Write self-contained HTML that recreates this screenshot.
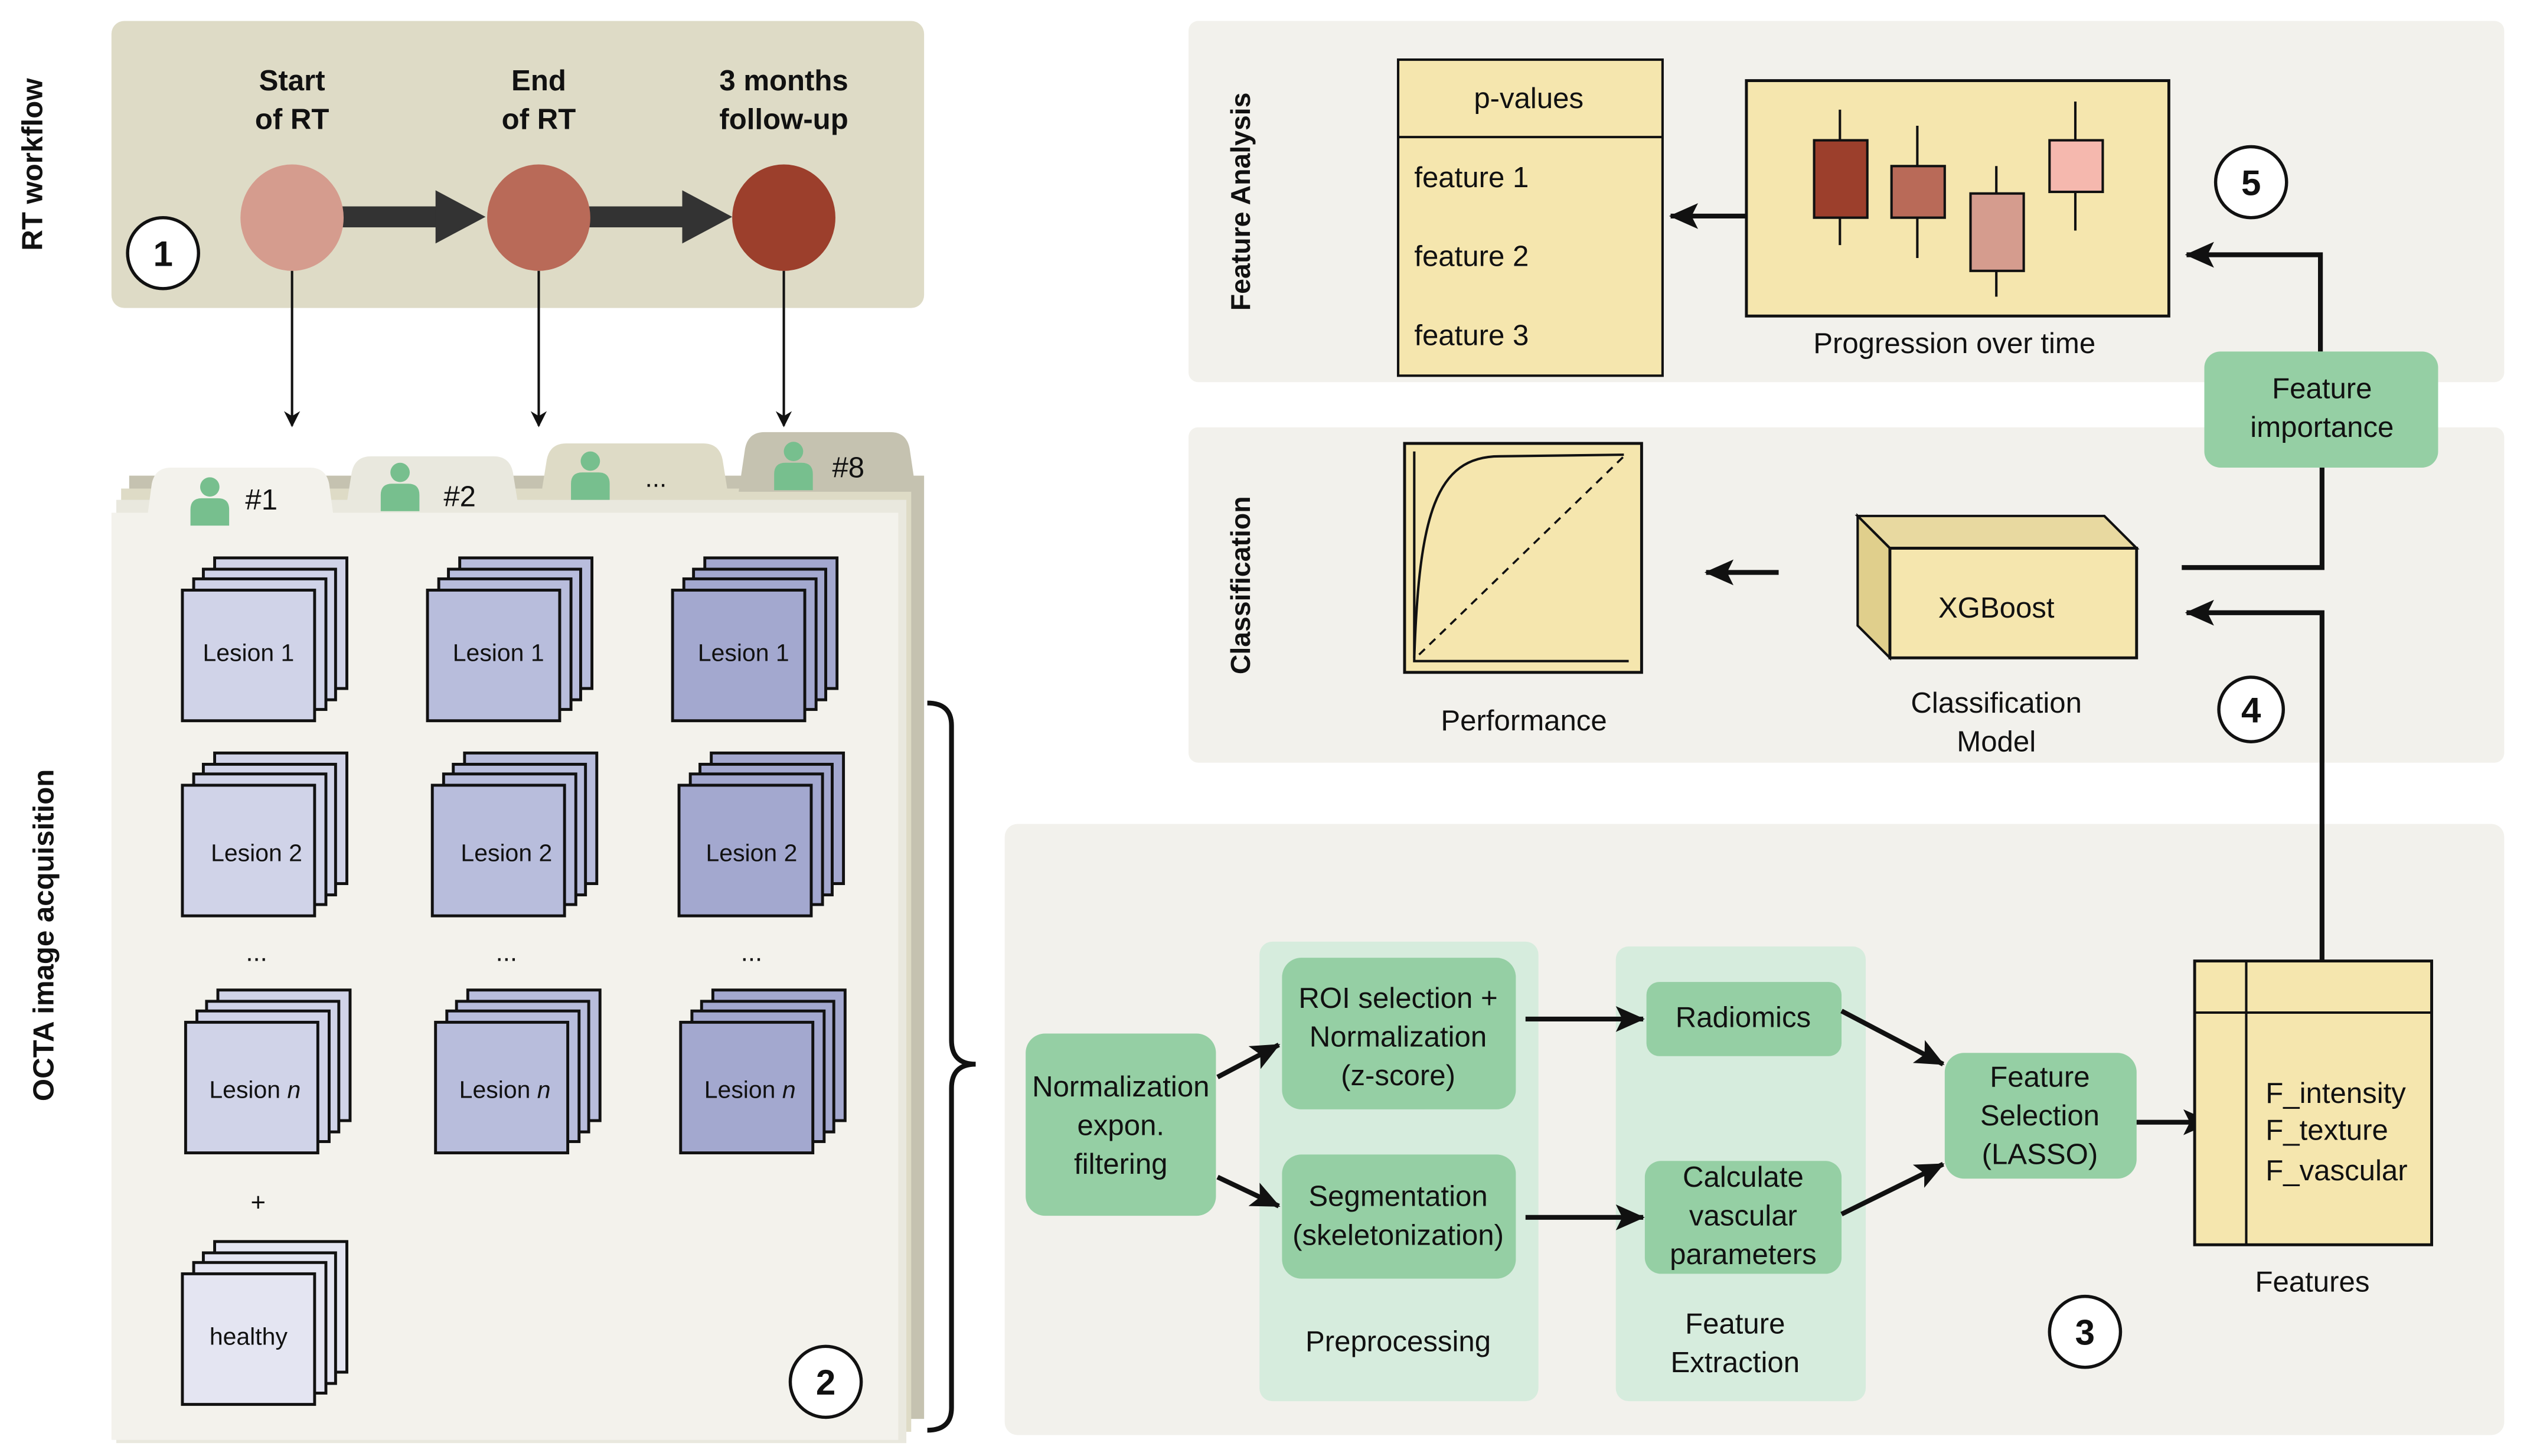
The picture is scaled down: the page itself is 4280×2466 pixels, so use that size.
<!DOCTYPE html>
<html><head><meta charset="utf-8"><style>
html,body{margin:0;padding:0;background:#fff;}
svg{display:block;}
text{font-family:"Liberation Sans",Arial,sans-serif;fill:#111;}
</style></head><body>
<svg width="4280" height="2466" viewBox="0 0 1567 903" xmlns="http://www.w3.org/2000/svg">
<defs>
<marker id="ah" markerWidth="10" markerHeight="10" refX="9" refY="5" orient="auto" markerUnits="userSpaceOnUse"><path d="M0,0 L10,5 L0,10 L3,5 z" fill="#111"/></marker>
<marker id="ahb" markerWidth="18" markerHeight="16" refX="17" refY="8" orient="auto" markerUnits="userSpaceOnUse"><path d="M0,0 L18,8 L0,16 L4,8 z" fill="#111"/></marker>
<g id="person"><circle cx="0" cy="-12" r="6" fill="#77bf8e"/><path d="M-12,12 L-12,2 Q-12,-5 -5,-5 L5,-5 Q12,-5 12,2 L12,12 z" fill="#77bf8e"/></g>
</defs>

<rect x="69" y="13" width="504" height="178" rx="8" fill="#dedbc6"/>
<text transform="translate(26,102) rotate(-90)" text-anchor="middle" font-size="18" font-weight="bold">RT workflow</text>
<g font-size="18" font-weight="bold" text-anchor="middle">
<text x="181" y="56">Start</text><text x="181" y="80">of RT</text>
<text x="334" y="56">End</text><text x="334" y="80">of RT</text>
<text x="486" y="56">3 months</text><text x="486" y="80">follow-up</text>
</g>
<rect x="212" y="128" width="60" height="13" fill="#333"/><path d="M270,118 L301,134.5 L270,151 z" fill="#333"/>
<rect x="365" y="128" width="60" height="13" fill="#333"/><path d="M423,118 L454,134.5 L423,151 z" fill="#333"/>
<ellipse cx="181" cy="135" rx="32" ry="33" fill="#d59c8e"/>
<ellipse cx="334" cy="135" rx="32" ry="33" fill="#b96a58"/>
<ellipse cx="486" cy="135" rx="32" ry="33" fill="#9c3f2c"/>
<circle cx="101" cy="157" r="22" fill="#fff" stroke="#111" stroke-width="2"/>
<text x="101" y="165" font-size="22" font-weight="bold" text-anchor="middle">1</text>
<g stroke="#111" stroke-width="1.5" fill="none">
<line x1="181" y1="168" x2="181" y2="264" marker-end="url(#ah)"/>
<line x1="334" y1="168" x2="334" y2="264" marker-end="url(#ah)"/>
<line x1="486" y1="168" x2="486" y2="264" marker-end="url(#ah)"/>
</g>

<rect x="80" y="295" width="493" height="585" fill="#c5c2b0"/>
<rect x="75" y="303" width="490" height="585" fill="#dedbc6"/>
<rect x="72" y="310" width="490" height="585" fill="#e9e8de"/>
<path d="M458,305 L462,278 Q464,268 474,268 L552,268 Q562,268 564,278 L568,305 z" fill="#c5c2b0"/>
<path d="M335,310 L339,285 Q341,275 351,275 L436,275 Q446,275 448,285 L452,310 z" fill="#dedbc6"/>
<path d="M214,318 L218,293 Q220,283 230,283 L306,283 Q316,283 318,293 L322,318 z" fill="#e9e8de"/>
<rect x="69" y="318" width="488" height="575" fill="#f3f2ec"/>
<path d="M90,330 L94,300 Q96,290 106,290 L192,290 Q202,290 204,300 L208,330 z" fill="#f3f2ec"/>
<use href="#person" x="130" y="314"/><text x="152" y="316" font-size="18" fill="#555">#1</text>
<use href="#person" x="248" y="305"/><text x="275" y="314" font-size="18" fill="#555">#2</text>
<use href="#person" x="366" y="298"/><text x="400" y="302" font-size="16" fill="#555">...</text>
<use href="#person" x="492" y="292"/><text x="516" y="296" font-size="18" fill="#555">#8</text>

<g stroke="#111" stroke-width="1.8" font-size="15" text-anchor="middle">
<g fill="#d0d3e8">
<rect x="133" y="346" width="82" height="81"/><rect x="126" y="353" width="82" height="81"/><rect x="120" y="359" width="82" height="81"/><rect x="113" y="366" width="82" height="81"/>
<rect x="133" y="467" width="82" height="81"/><rect x="126" y="474" width="82" height="81"/><rect x="120" y="480" width="82" height="81"/><rect x="113" y="487" width="82" height="81"/>
<rect x="135" y="614" width="82" height="81"/><rect x="128" y="621" width="82" height="81"/><rect x="122" y="627" width="82" height="81"/><rect x="115" y="634" width="82" height="81"/>
</g>
<g fill="#e4e5f2">
<rect x="133" y="770" width="82" height="81"/><rect x="126" y="777" width="82" height="81"/><rect x="120" y="783" width="82" height="81"/><rect x="113" y="790" width="82" height="81"/>
</g>
<g fill="#b8bddc">
<rect x="285" y="346" width="82" height="81"/><rect x="278" y="353" width="82" height="81"/><rect x="272" y="359" width="82" height="81"/><rect x="265" y="366" width="82" height="81"/>
<rect x="288" y="467" width="82" height="81"/><rect x="281" y="474" width="82" height="81"/><rect x="275" y="480" width="82" height="81"/><rect x="268" y="487" width="82" height="81"/>
<rect x="290" y="614" width="82" height="81"/><rect x="283" y="621" width="82" height="81"/><rect x="277" y="627" width="82" height="81"/><rect x="270" y="634" width="82" height="81"/>
</g>
<g fill="#a3a8cf">
<rect x="437" y="346" width="82" height="81"/><rect x="430" y="353" width="82" height="81"/><rect x="424" y="359" width="82" height="81"/><rect x="417" y="366" width="82" height="81"/>
<rect x="441" y="467" width="82" height="81"/><rect x="434" y="474" width="82" height="81"/><rect x="428" y="480" width="82" height="81"/><rect x="421" y="487" width="82" height="81"/>
<rect x="442" y="614" width="82" height="81"/><rect x="435" y="621" width="82" height="81"/><rect x="429" y="627" width="82" height="81"/><rect x="422" y="634" width="82" height="81"/>
</g>
</g>
<g font-size="15" text-anchor="middle">
<text x="154" y="410">Lesion 1</text><text x="309" y="410">Lesion 1</text><text x="461" y="410">Lesion 1</text>
<text x="159" y="534">Lesion 2</text><text x="314" y="534">Lesion 2</text><text x="466" y="534">Lesion 2</text>
<text x="158" y="681">Lesion <tspan font-style="italic">n</tspan></text><text x="313" y="681">Lesion <tspan font-style="italic">n</tspan></text><text x="465" y="681">Lesion <tspan font-style="italic">n</tspan></text>
<text x="154" y="834">healthy</text>
<text x="159" y="596" font-size="16">...</text><text x="314" y="596" font-size="16">...</text><text x="466" y="596" font-size="16">...</text>
<text x="160" y="751" font-size="16">+</text>
</g>
<text transform="translate(33,580) rotate(-90)" text-anchor="middle" font-size="18" font-weight="bold">OCTA image acquisition</text>
<circle cx="512" cy="857" r="22" fill="#fff" stroke="#111" stroke-width="2"/>
<text x="512" y="865" font-size="22" font-weight="bold" text-anchor="middle">2</text>
<path d="M575,436 Q590,436 590,450 L590,645 Q590,660 605,660 Q590,660 590,675 L590,873 Q590,887 575,887" fill="none" stroke="#111" stroke-width="3"/>

<rect x="737" y="13" width="816" height="224" rx="6" fill="#f2f1ec"/>
<rect x="737" y="265" width="816" height="208" rx="6" fill="#f2f1ec"/>
<rect x="623" y="511" width="930" height="379" rx="8" fill="#f2f1ec"/>
<text transform="translate(775,125) rotate(-90)" text-anchor="middle" font-size="17" font-weight="bold">Feature Analysis</text>
<text transform="translate(775,363) rotate(-90)" text-anchor="middle" font-size="17" font-weight="bold">Classification</text>

<rect x="867" y="37" width="164" height="196" fill="#f5e6ae" stroke="#111" stroke-width="1.5"/>
<line x1="867" y1="85" x2="1031" y2="85" stroke="#111" stroke-width="1.5"/>
<g font-size="18"><text x="948" y="67" text-anchor="middle">p-values</text>
<text x="877" y="116">feature 1</text><text x="877" y="165">feature 2</text><text x="877" y="214">feature 3</text></g>
<line x1="1083" y1="134" x2="1036" y2="134" stroke="#111" stroke-width="3" marker-end="url(#ahb)"/>
<rect x="1083" y="50" width="262" height="146" fill="#f5e6ae" stroke="#111" stroke-width="1.8"/>
<g stroke="#111" stroke-width="1.5">
<line x1="1141" y1="68" x2="1141" y2="152"/><rect x="1125" y="87" width="33" height="48" fill="#9c3f2c"/>
<line x1="1189" y1="78" x2="1189" y2="160"/><rect x="1173" y="103" width="33" height="32" fill="#b96a58"/>
<line x1="1238" y1="103" x2="1238" y2="184"/><rect x="1222" y="120" width="33" height="48" fill="#d59c8e"/>
<line x1="1287" y1="63" x2="1287" y2="143"/><rect x="1271" y="87" width="33" height="32" fill="#f5b8ae"/>
</g>
<text x="1212" y="219" font-size="18" text-anchor="middle">Progression over time</text>
<circle cx="1396" cy="113" r="22" fill="#fff" stroke="#111" stroke-width="2"/>
<text x="1396" y="121" font-size="22" font-weight="bold" text-anchor="middle">5</text>

<polyline points="1439,218 1439,158 1356,158" fill="none" stroke="#111" stroke-width="3" marker-end="url(#ahb)"/>
<polyline points="1440,290 1440,352 1353,352" fill="none" stroke="#111" stroke-width="3"/>
<rect x="1367" y="218" width="145" height="72" rx="10" fill="#95cfa4"/>
<text x="1440" y="247" font-size="18" text-anchor="middle">Feature</text>
<text x="1440" y="271" font-size="18" text-anchor="middle">importance</text>

<rect x="871" y="275" width="147" height="142" fill="#f5e6ae" stroke="#111" stroke-width="1.8"/>
<polyline points="877,280 877,410 1010,410" fill="none" stroke="#111" stroke-width="1.5"/>
<path d="M877,408 C880,320 890,283 930,283 L1007,282" fill="none" stroke="#111" stroke-width="1.5"/>
<line x1="880" y1="406" x2="1007" y2="283" stroke="#111" stroke-width="1.3" stroke-dasharray="5,4"/>
<text x="945" y="453" font-size="18" text-anchor="middle">Performance</text>
<line x1="1103" y1="355" x2="1058" y2="355" stroke="#111" stroke-width="3" marker-end="url(#ahb)"/>

<path d="M1152,320 L1305,320 L1325,340 L1172,340 z" fill="#e8d9a0" stroke="#111" stroke-width="1.5"/>
<path d="M1152,320 L1172,340 L1172,408 L1152,388 z" fill="#e0cf8c" stroke="#111" stroke-width="1.5"/>
<rect x="1172" y="340" width="153" height="68" fill="#f5e6ae" stroke="#111" stroke-width="1.8"/>
<text x="1238" y="383" font-size="18" text-anchor="middle">XGBoost</text>
<text x="1238" y="442" font-size="18" text-anchor="middle">Classification</text>
<text x="1238" y="466" font-size="18" text-anchor="middle">Model</text>
<circle cx="1396" cy="440" r="20" fill="#fff" stroke="#111" stroke-width="2"/>
<text x="1396" y="448" font-size="22" font-weight="bold" text-anchor="middle">4</text>
<polyline points="1440,596 1440,380 1356,380" fill="none" stroke="#111" stroke-width="3" marker-end="url(#ahb)"/>

<rect x="781" y="584" width="173" height="285" rx="8" fill="#d6ecdd"/>
<rect x="1002" y="587" width="155" height="282" rx="8" fill="#d6ecdd"/>
<g fill="#95cfa4">
<rect x="636" y="641" width="118" height="113" rx="12"/>
<rect x="795" y="594" width="145" height="94" rx="12"/>
<rect x="795" y="716" width="145" height="77" rx="12"/>
<rect x="1021" y="609" width="121" height="46" rx="8"/>
<rect x="1020" y="720" width="122" height="70" rx="10"/>
<rect x="1206" y="653" width="119" height="78" rx="12"/>
</g>
<g font-size="18" text-anchor="middle">
<text x="695" y="680">Normalization</text><text x="695" y="704">expon.</text><text x="695" y="728">filtering</text>
<text x="867" y="625">ROI selection +</text><text x="867" y="649">Normalization</text><text x="867" y="673">(z-score)</text>
<text x="867" y="748">Segmentation</text><text x="867" y="772">(skeletonization)</text>
<text x="1081" y="637">Radiomics</text>
<text x="1081" y="736">Calculate</text><text x="1081" y="760">vascular</text><text x="1081" y="784">parameters</text>
<text x="1265" y="674">Feature</text><text x="1265" y="698">Selection</text><text x="1265" y="722">(LASSO)</text>
<text x="867" y="838">Preprocessing</text>
<text x="1076" y="827">Feature</text><text x="1076" y="851">Extraction</text>
<text x="1434" y="801">Features</text>
</g>
<g stroke="#111" stroke-width="3" fill="none">
<line x1="755" y1="668" x2="793" y2="648" marker-end="url(#ahb)"/>
<line x1="755" y1="730" x2="793" y2="748" marker-end="url(#ahb)"/>
<line x1="946" y1="632" x2="1019" y2="632" marker-end="url(#ahb)"/>
<line x1="946" y1="755" x2="1019" y2="755" marker-end="url(#ahb)"/>
<line x1="1142" y1="627" x2="1205" y2="660" marker-end="url(#ahb)"/>
<line x1="1142" y1="753" x2="1205" y2="722" marker-end="url(#ahb)"/>
<line x1="1325" y1="696" x2="1371" y2="696" marker-end="url(#ahb)"/>
</g>
<rect x="1361" y="596" width="147" height="176" fill="#f5e6ae" stroke="#111" stroke-width="1.8"/>
<line x1="1361" y1="628" x2="1508" y2="628" stroke="#111" stroke-width="1.5"/>
<line x1="1393" y1="596" x2="1393" y2="772" stroke="#111" stroke-width="1.5"/>
<g font-size="18"><text x="1405" y="684">F_intensity</text><text x="1405" y="707">F_texture</text><text x="1405" y="732">F_vascular</text></g>
<circle cx="1293" cy="826" r="22" fill="#fff" stroke="#111" stroke-width="2"/>
<text x="1293" y="834" font-size="22" font-weight="bold" text-anchor="middle">3</text>
</svg>
</body></html>
